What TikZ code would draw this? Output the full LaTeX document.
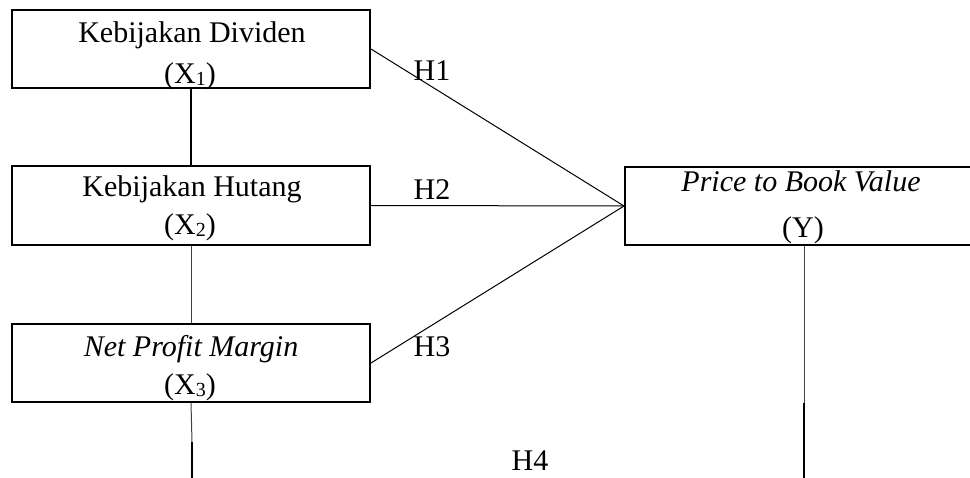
\documentclass[tikz,border=0pt]{standalone}
\usepackage{fontspec}
\setmainfont{Liberation Serif}
\newcommand{\subdig}[1]{\raisebox{-1.5pt}{\fontsize{20}{20}\selectfont #1}}
\begin{document}
\begin{tikzpicture}[x=1pt,y=-1pt,
  box/.style={draw, line width=2pt, rectangle, inner sep=0pt},
  txt/.style={inner sep=0pt, anchor=base, font=\fontsize{30}{35}\selectfont},
  conn/.style={line width=1pt},
  thick line/.style={line width=2.2pt},
  thin line/.style={line width=1pt, black!75}]
\useasboundingbox (0,0) rectangle (970,478);
% boxes
\node[box, minimum width=358pt, minimum height=78pt] (x1) at (191,49) {};
\node[box, minimum width=358pt, minimum height=79pt] (x2) at (191,205.5) {};
\node[box, minimum width=358pt, minimum height=78pt] (x3) at (191,363) {};
\node[box, minimum width=355pt, minimum height=78pt] (y) at (802.5,206) {};
% texts
\node[txt] (t1a) at (192,43) {Kebijakan Dividen};
\node[txt] (t1b) at (190,84) {(X\subdig{1})};
\node[txt] (t2a) at (192,197) {Kebijakan Hutang};
\node[txt] (t2b) at (190,235) {(X\subdig{2})};
\node[txt] (t3a) at (191,357) {\itshape Net Profit Margin};
\node[txt] (t3b) at (190,395) {(X\subdig{3})};
\node[txt] (tya) at (801,192) {\itshape Price to Book Value};
\node[txt] (tyb) at (803,238) {(Y)};
% hypothesis labels
\node[txt] (h1) at (432,81) {H1};
\node[txt] (h2) at (432,200) {H2};
\node[txt] (h3) at (432,357) {H3};
\node[txt] (h4) at (530,471) {H4};
% connectors
\coordinate (meet) at (y.west);
\draw[conn] (x1.east) -- (meet);
\draw[conn] (x2.east) -- (meet);
\draw[conn] (x3.east) -- (meet);
% vertical lines
\draw[thick line] (x1.south) -- (x2.north);
\draw[thin line] (x2.south) -- (x3.north);
\coordinate (lmid) at (192,442);
\coordinate (lbot) at (192,478);
\draw[thin line] (x3.south) -- (lmid);
\draw[thick line] (lmid) -- (lbot);
\coordinate (rmid) at (804,403);
\coordinate (rbot) at (804,478);
\draw[thin line] (y.south -| rmid) -- (rmid);
\draw[thick line] (rmid) -- (rbot);
\end{tikzpicture}
\end{document}
